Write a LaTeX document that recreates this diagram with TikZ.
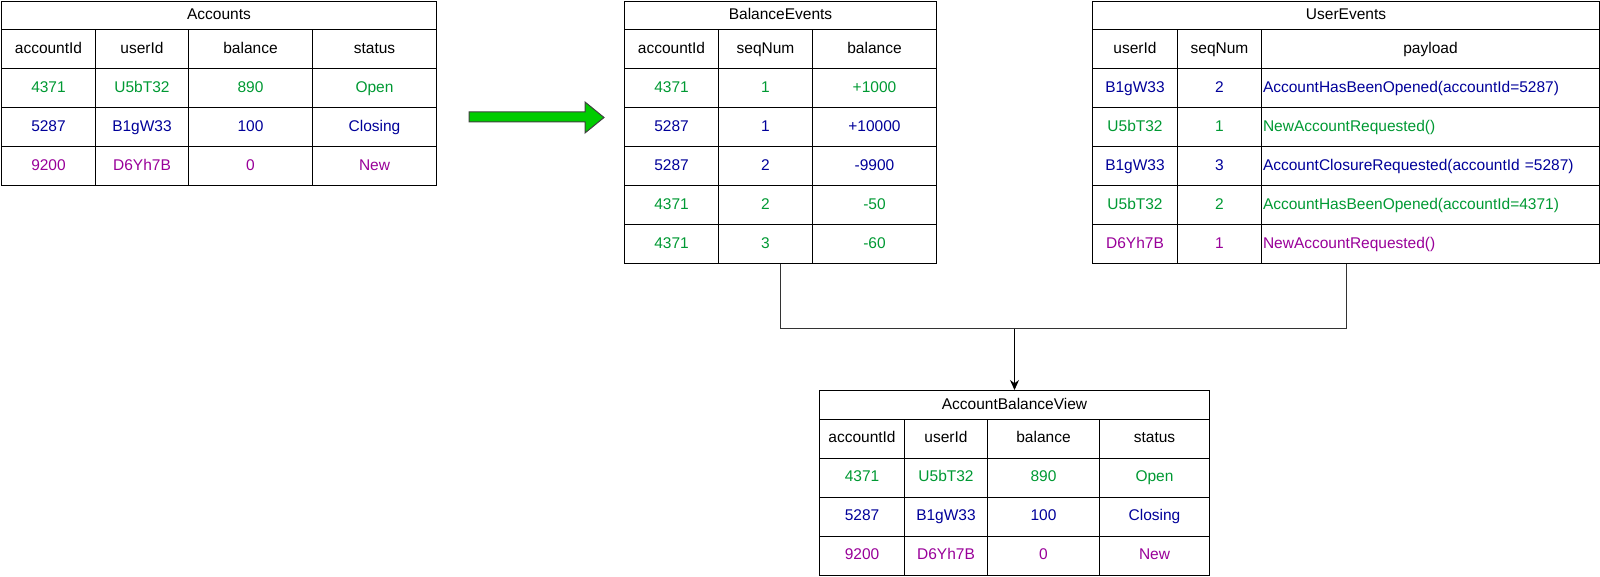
\documentclass[tikz,border=0pt]{standalone}
\usepackage{fontspec}
\setmainfont{Liberation Sans}
\usepackage{tikz}
\usetikzlibrary{arrows, arrows.meta}
\usetikzlibrary{positioning, calc}
\definecolor{okgreen}{HTML}{009933}
\definecolor{closeblue}{HTML}{000099}
\definecolor{newpurple}{HTML}{990099}
\definecolor{flowgreen}{HTML}{00CC00}
\tikzset{
    cell/.style = {draw=black, line width=1pt, inner sep=0pt, anchor=north west,
        minimum height=39pt, text height=11.5pt, text depth=3pt, text=black},
    title/.style = {cell, minimum height=28.5pt},
    grn/.style = {text=okgreen},
    blu/.style = {text=closeblue},
    pur/.style = {text=newpurple},
    payload/.style = {cell, text width=335pt, inner xsep=1.5pt, align=left},
}

\begin{document}
\begin{tikzpicture}[x=1pt,y=-1pt,font=\fontsize{15.5}{18}\selectfont,>={Stealth[length=10pt,width=9pt]}]
        \useasboundingbox (0,0) rectangle (1600,577);
        % Accounts
        \node [title, minimum width=435pt] (acc-title) at (1,1) {Accounts};
        \foreach \c/\x/\w/\t in {1/1/94/accountId, 2/95/93/userId, 3/188/124/balance, 4/312/124/status}
            \node [cell, minimum width=\w pt] (acc-0-\c) at (\x,29.5) {\t};
        \foreach \r/\s/\a/\b/\d/\e in {1/grn/4371/U5bT32/890/Open, 2/blu/5287/B1gW33/100/Closing, 3/pur/9200/D6Yh7B/0/New} {
            \node [cell, \s, minimum width=94pt] (acc-\r-1) at (1,29.5+39*\r) {\a};
            \node [cell, \s, minimum width=93pt] (acc-\r-2) at (95,29.5+39*\r) {\b};
            \node [cell, \s, minimum width=124pt] (acc-\r-3) at (188,29.5+39*\r) {\d};
            \node [cell, \s, minimum width=124pt] (acc-\r-4) at (312,29.5+39*\r) {\e};
        }
        % BalanceEvents
        \node [title, minimum width=312pt] (bal-title) at (624,1) {BalanceEvents};
        \foreach \c/\x/\w/\t in {1/624/94/accountId, 2/718/94/seqNum, 3/812/124/balance}
            \node [cell, minimum width=\w pt] (bal-0-\c) at (\x,29.5) {\t};
        \foreach \r/\s/\a/\b/\d in {1/grn/4371/1/+1000, 2/blu/5287/1/+10000, 3/blu/5287/2/-9900, 4/grn/4371/2/-50, 5/grn/4371/3/-60} {
            \node [cell, \s, minimum width=94pt] (bal-\r-1) at (624,29.5+39*\r) {\a};
            \node [cell, \s, minimum width=94pt] (bal-\r-2) at (718,29.5+39*\r) {\b};
            \node [cell, \s, minimum width=124pt] (bal-\r-3) at (812,29.5+39*\r) {\d};
        }
        % UserEvents
        \node [title, minimum width=507pt] (usr-title) at (1092,1) {UserEvents};
        \foreach \c/\x/\w/\t in {1/1092/85/userId, 2/1177/84/seqNum, 3/1261/338/payload}
            \node [cell, minimum width=\w pt] (usr-0-\c) at (\x,29.5) {\t};
        \foreach \r/\s/\a/\b/\d in {1/blu/B1gW33/2/{AccountHasBeenOpened(accountId=5287)}, 2/grn/U5bT32/1/{NewAccountRequested()},
                3/blu/B1gW33/3/{AccountClosureRequested(accountId =5287)}, 4/grn/U5bT32/2/{AccountHasBeenOpened(accountId=4371)},
                5/pur/D6Yh7B/1/{NewAccountRequested()}} {
            \node [cell, \s, minimum width=85pt] (usr-\r-1) at (1092,29.5+39*\r) {\a};
            \node [cell, \s, minimum width=84pt] (usr-\r-2) at (1177,29.5+39*\r) {\b};
            \node [payload, \s] (usr-\r-3) at (1261,29.5+39*\r) {\d};
        }
        % AccountBalanceView
        \node [title, minimum width=390pt] (view-title) at (819,390) {AccountBalanceView};
        \foreach \c/\x/\w/\t in {1/819/85/accountId, 2/904/83/userId, 3/987/112/balance, 4/1099/110/status}
            \node [cell, minimum width=\w pt] (view-0-\c) at (\x,418.5) {\t};
        \foreach \r/\s/\a/\b/\d/\e in {1/grn/4371/U5bT32/890/Open, 2/blu/5287/B1gW33/100/Closing, 3/pur/9200/D6Yh7B/0/New} {
            \node [cell, \s, minimum width=85pt] (view-\r-1) at (819,418.5+39*\r) {\a};
            \node [cell, \s, minimum width=83pt] (view-\r-2) at (904,418.5+39*\r) {\b};
            \node [cell, \s, minimum width=112pt] (view-\r-3) at (987,418.5+39*\r) {\d};
            \node [cell, \s, minimum width=110pt] (view-\r-4) at (1099,418.5+39*\r) {\e};
        }
        % flow arrow and join
        \draw [fill=flowgreen, draw=black!75, line width=1pt]
            (469,112) -- (585,112) -- (585,102) -- (604,117.5) -- (585,133) -- (585,122) -- (469,122) -- cycle;
        \draw [line width=1pt, black!80] (bal-title.center |- bal-5-1.south) -- ++(0,64) coordinate (join)
            -| (usr-title.center |- usr-5-1.south);
        \draw [->, line width=1pt] (view-title.north |- join) -- (view-title.north);
        \end{tikzpicture}
\end{document}
